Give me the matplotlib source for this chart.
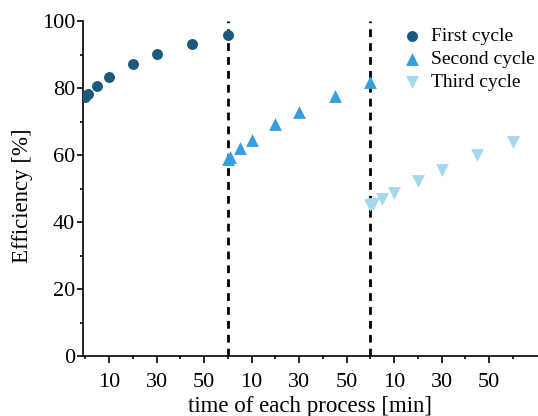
import matplotlib
matplotlib.use("Agg")
import matplotlib.pyplot as plt
import numpy as np
from matplotlib.ticker import FixedLocator, FixedFormatter

plt.rcParams['font.family'] = ['Liberation Serif', 'DejaVu Serif']

# time within each process [min]
times = [0, 1, 5, 10, 20, 30, 45, 60]
cycle_length = 60

first_cycle = [77.4, 78.2, 80.7, 83.3, 87.3, 90.2, 93.2, 95.7]
second_cycle = [58.8, 59.5, 62.0, 64.4, 69.2, 72.7, 77.5, 81.7]
third_cycle = [45.0, 45.5, 46.8, 48.8, 52.2, 55.4, 60.0, 63.9]

series_names = ["First cycle", "Second cycle", "Third cycle"]
series_values = [first_cycle, second_cycle, third_cycle]
series_markers = ["o", "^", "v"]
series_colors = ["#1b5a7c", "#35a0dc", "#a5d8f0"]
series_sizes = [62, 85, 85]

tick_minutes = [10, 30, 50]
y_ticks = [0, 20, 40, 60, 80, 100]

fig = plt.figure(figsize=(5.38, 4.16), dpi=100)
ax = fig.add_axes([83 / 538, 60 / 416, 455 / 538, 335 / 416])

for i, (name, vals, mk, col, sz) in enumerate(zip(series_names, series_values,
                                                  series_markers, series_colors, series_sizes)):
    xs = np.array(times) + i * cycle_length
    ax.scatter(xs, vals, marker=mk, color=col, s=sz, label=name, zorder=3, linewidths=0)

for k in (1, 2):
    ax.axvline(k * cycle_length, color="black", linestyle=(0, (2.8, 2.2)), linewidth=2.0, zorder=2)

ax.set_xlim(-1, 190.6)
ax.set_ylim(0, 100)

major_x = [t + k * cycle_length for k in range(3) for t in tick_minutes]
major_lbl = [str(t) for k in range(3) for t in tick_minutes]
minor_x = [k * 20 for k in range(10)]
ax.xaxis.set_major_locator(FixedLocator(major_x))
ax.xaxis.set_major_formatter(FixedFormatter(major_lbl))
ax.xaxis.set_minor_locator(FixedLocator(minor_x))
ax.yaxis.set_major_locator(FixedLocator(y_ticks))
ax.yaxis.set_minor_locator(FixedLocator([10, 30, 50, 70, 90]))

ax.tick_params(axis="x", which="major", direction="out", length=5, width=1.2, labelsize=16, pad=7)
ax.tick_params(axis="y", which="major", direction="out", length=4, width=1.2, labelsize=16, pad=1.5)
ax.tick_params(axis="both", which="minor", direction="out", length=2.5, width=1.2)

for s in ("top", "right"):
    ax.spines[s].set_visible(False)
for s in ("left", "bottom"):
    ax.spines[s].set_linewidth(1.2)

ax.set_xlabel("time of each process [min]", fontsize=16.5, labelpad=3.2)
ax.set_ylabel("Efficiency [%]", fontsize=16.5)
ax.yaxis.set_label_coords(-0.110, 0.478)

ax.legend(loc="upper left", frameon=False, fontsize=14, handletextpad=0.5,
          borderaxespad=0.0, borderpad=0.0, labelspacing=0.28, handlelength=1.0,
          bbox_to_anchor=(402.3 / 538, 1 - 27 / 416), bbox_transform=fig.transFigure)

fig.savefig("out.png", dpi=100)
